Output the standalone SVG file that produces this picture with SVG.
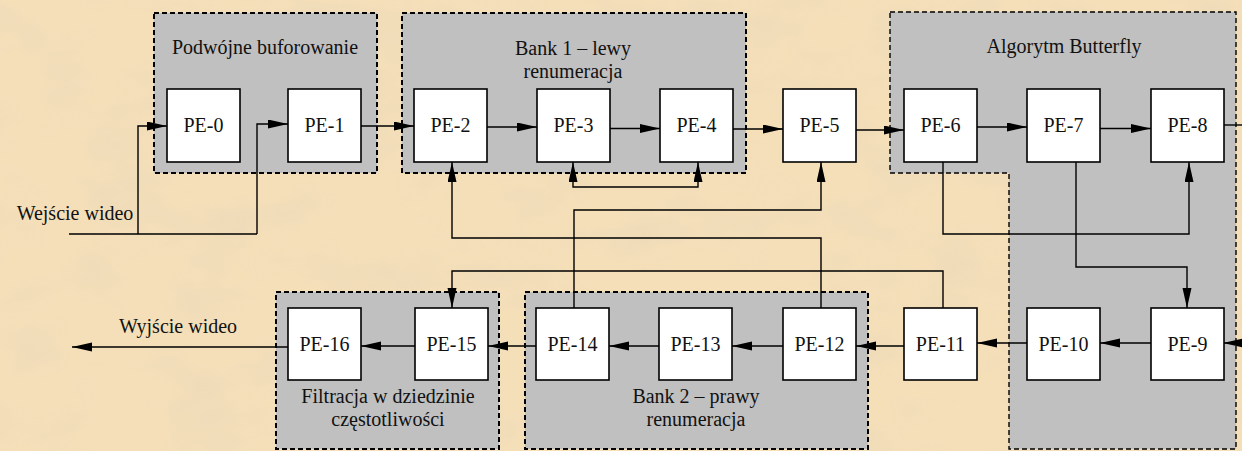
<svg xmlns="http://www.w3.org/2000/svg" width="1242" height="451" viewBox="0 0 1242 451">
  <style>
    .grp { fill: #C0C0C0; stroke: #000; stroke-width: 2; stroke-dasharray: 5 3; }
    .grp2 { fill: #C0C0C0; stroke: #000; stroke-width: 1.4; stroke-dasharray: 5 3; }
    .pe { fill: #FFF; stroke: #000; stroke-width: 1.6; }
    text { font-family: 'Liberation Serif', 'DejaVu Serif', serif; font-size: 20px; fill: #111; text-anchor: middle; }
    .con { fill: none; stroke: #000; stroke-width: 1.4; }
  </style>
  <defs>
    <marker id="ah" markerUnits="userSpaceOnUse" markerWidth="21" markerHeight="10" refX="20" refY="4.5" orient="auto-start-reverse" viewBox="0 0 21 10">
      <path d="M0,0 L20,4.5 L0,9 Z" fill="#000"/>
    </marker>
    <filter id="tex" x="0" y="0" width="100%" height="100%">
      <feTurbulence type="fractalNoise" baseFrequency="0.012 0.02" numOctaves="4" seed="7" result="n"/>
      <feColorMatrix in="n" type="matrix" values="0 0 0 0 0.82  0 0 0 0 0.68  0 0 0 0 0.48  0 0 0 -2.4 1.3" />
    </filter>
  </defs>

  <rect x="0" y="0" width="1242" height="451" fill="#F4DFB9"/>
  <rect x="0" y="0" width="1242" height="451" filter="url(#tex)" opacity="0.5"/>

  <g id="grp-podwojne">
    <rect class="grp" x="154" y="13" width="223" height="160"/>
    <text x="265" y="54" font-family="Liberation Serif, serif">Podwójne buforowanie</text>
  </g>
  <g id="grp-bank1">
    <rect class="grp" x="402" y="13" width="344" height="160"/>
    <text x="573" y="55" font-family="Liberation Serif, serif">Bank 1 – lewy</text>
    <text x="573" y="78" font-family="Liberation Serif, serif">renumeracja</text>
  </g>
  <g id="grp-butterfly">
    <path class="grp2" d="M890,12 H1236 V449 H1009 V173 H890 Z"/>
    <text x="1064" y="53" font-family="Liberation Serif, serif">Algorytm Butterfly</text>
  </g>
  <g id="grp-bank2">
    <rect class="grp" x="525" y="292" width="343" height="157"/>
    <text x="696" y="403" font-family="Liberation Serif, serif">Bank 2 – prawy</text>
    <text x="696" y="426" font-family="Liberation Serif, serif">renumeracja</text>
  </g>
  <g id="grp-filtracja">
    <rect class="grp" x="276" y="292" width="223" height="157"/>
    <text x="388" y="403" font-family="Liberation Serif, serif">Filtracja w dziedzinie</text>
    <text x="388" y="426" font-family="Liberation Serif, serif">częstotliwości</text>
  </g>

  <g id="connectors">
    <path class="con" d="M69,234 H257"/>
    <path class="con" d="M138,234 V126 H167" marker-end="url(#ah)"/>
    <path class="con" d="M257,234 V124 H288" marker-end="url(#ah)"/>
    <path class="con" d="M361,126 H414" marker-end="url(#ah)"/>
    <path class="con" d="M487,127 H537" marker-end="url(#ah)"/>
    <path class="con" d="M609,128.5 H660" marker-end="url(#ah)"/>
    <path class="con" d="M733,129 H783" marker-end="url(#ah)"/>
    <path class="con" d="M856,130 H904" marker-end="url(#ah)"/>
    <path class="con" d="M977,127 H1027" marker-end="url(#ah)"/>
    <path class="con" d="M1100,128.5 H1151" marker-end="url(#ah)"/>
    <path class="con" d="M1223,125 H1242"/>
    <path class="con" d="M1250,343 H1223" marker-end="url(#ah)"/>
    <path class="con" d="M1151,343 H1100" marker-end="url(#ah)"/>
    <path class="con" d="M1027,343 H977" marker-end="url(#ah)"/>
    <path class="con" d="M904,346 H856" marker-end="url(#ah)"/>
    <path class="con" d="M783,346 H732" marker-end="url(#ah)"/>
    <path class="con" d="M659,346 H609" marker-end="url(#ah)"/>
    <path class="con" d="M536,346 H488" marker-end="url(#ah)"/>
    <path class="con" d="M415,346 H361" marker-end="url(#ah)"/>
    <path class="con" d="M288,347 H72" marker-end="url(#ah)"/>
    <path class="con" d="M573,162 V187 H698 V162" marker-start="url(#ah)" marker-end="url(#ah)"/>
    <path class="con" d="M821,308 V238 H452 V162" marker-end="url(#ah)"/>
    <path class="con" d="M574,308 V210 H821 V162" marker-end="url(#ah)"/>
    <path class="con" d="M943,308 V271 H452 V308" marker-end="url(#ah)"/>
    <path class="con" d="M943,162 V234 H1189 V162" marker-end="url(#ah)"/>
    <path class="con" d="M1076,162 V267 H1187 V308" marker-end="url(#ah)"/>
  </g>

  <text x="75" y="220" font-family="Liberation Serif, serif">Wejście wideo</text>
  <text x="178" y="333" font-family="Liberation Serif, serif">Wyjście wideo</text>

  <g id="pe-0"><rect class="pe" x="167" y="89" width="73" height="73"/><text x="203.5" y="132" font-family="Liberation Serif, serif">PE-0</text></g>
  <g id="pe-1"><rect class="pe" x="288" y="89" width="73" height="73"/><text x="324.5" y="132" font-family="Liberation Serif, serif">PE-1</text></g>
  <g id="pe-2"><rect class="pe" x="414" y="89" width="73" height="73"/><text x="450.5" y="132" font-family="Liberation Serif, serif">PE-2</text></g>
  <g id="pe-3"><rect class="pe" x="537" y="89" width="73" height="73"/><text x="573.5" y="132" font-family="Liberation Serif, serif">PE-3</text></g>
  <g id="pe-4"><rect class="pe" x="660" y="89" width="73" height="73"/><text x="696.5" y="132" font-family="Liberation Serif, serif">PE-4</text></g>
  <g id="pe-5"><rect class="pe" x="783" y="89" width="73" height="73"/><text x="819.5" y="132" font-family="Liberation Serif, serif">PE-5</text></g>
  <g id="pe-6"><rect class="pe" x="904" y="89" width="73" height="73"/><text x="940.5" y="132" font-family="Liberation Serif, serif">PE-6</text></g>
  <g id="pe-7"><rect class="pe" x="1027" y="89" width="73" height="73"/><text x="1063.5" y="132" font-family="Liberation Serif, serif">PE-7</text></g>
  <g id="pe-8"><rect class="pe" x="1151" y="89" width="73" height="73"/><text x="1187.5" y="132" font-family="Liberation Serif, serif">PE-8</text></g>
  <g id="pe-9"><rect class="pe" x="1151" y="308" width="73" height="72"/><text x="1187.5" y="351" font-family="Liberation Serif, serif">PE-9</text></g>
  <g id="pe-10"><rect class="pe" x="1027" y="308" width="73" height="72"/><text x="1063.5" y="351" font-family="Liberation Serif, serif">PE-10</text></g>
  <g id="pe-11"><rect class="pe" x="904" y="308" width="73" height="72"/><text x="940.5" y="351" font-family="Liberation Serif, serif">PE-11</text></g>
  <g id="pe-12"><rect class="pe" x="783" y="308" width="73" height="72"/><text x="819.5" y="351" font-family="Liberation Serif, serif">PE-12</text></g>
  <g id="pe-13"><rect class="pe" x="659" y="308" width="73" height="72"/><text x="695.5" y="351" font-family="Liberation Serif, serif">PE-13</text></g>
  <g id="pe-14"><rect class="pe" x="536" y="308" width="73" height="72"/><text x="572.5" y="351" font-family="Liberation Serif, serif">PE-14</text></g>
  <g id="pe-15"><rect class="pe" x="415" y="308" width="73" height="72"/><text x="451.5" y="351" font-family="Liberation Serif, serif">PE-15</text></g>
  <g id="pe-16"><rect class="pe" x="288" y="308" width="73" height="72"/><text x="324.5" y="351" font-family="Liberation Serif, serif">PE-16</text></g>
</svg>
